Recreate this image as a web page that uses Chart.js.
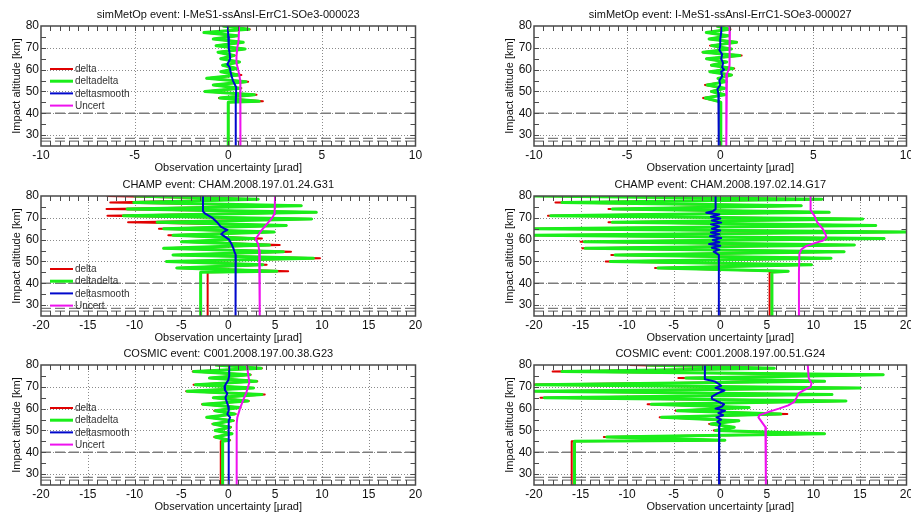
<!DOCTYPE html>
<html>
<head>
<meta charset="utf-8">
<script src="https://cdn.jsdelivr.net/npm/chart.js@4.4.1/dist/chart.umd.min.js"></script>
<style>
  html, body { margin: 0; padding: 0; background: #fff; }
  #fig { position: relative; width: 911px; height: 512px; overflow: hidden; }
  .cell { position: absolute; }
</style>
</head>
<body>
<div id="fig"></div>
<script>
// altitude grid of the raw profiles (km); last two points are the constant part below 45 km
const altZig = [80, 78.5, 77, 75.5, 74, 72.5, 71, 69.5, 68, 66.5, 65, 63.5, 62, 60.5, 59, 57.5,
                56, 54.5, 53, 51.5, 50, 48.5, 47, 45.5, 45, 25];

const seriesNames = ["delta", "deltadelta", "deltasmooth", "Uncert"];
const seriesColors = ["#e00000", "#1aee1a", "#0008cc", "#ee11ee"];
const seriesWidths = [2, 3, 2, 2];

const refAlt = [40, 28.5, 27.2];
const yTicks = [30, 40, 50, 60, 70, 80];
const xTicksNarrow = [-10, -5, 0, 5, 10];
const xTicksWide = [-20, -15, -10, -5, 0, 5, 10, 15, 20];

const titles = [
  "simMetOp event: I-MeS1-ssAnsI-ErrC1-SOe3-000023",
  "simMetOp event: I-MeS1-ssAnsI-ErrC1-SOe3-000027",
  "CHAMP event: CHAM.2008.197.01.24.G31",
  "CHAMP event: CHAM.2008.197.02.14.G17",
  "COSMIC event: C001.2008.197.00.38.G23",
  "COSMIC event: C001.2008.197.00.51.G24"
];

// simMetOp 000023
const m23Delta = [-0.3, 1.15, -1.3, 0.5, -0.8, 0.8, -0.65, 0.9, -0.55, 0.35, -0.4, 0.6, -0.3, 0.5, -0.4, 0.7,
                  -1.15, 1.06, -0.8, 0.7, -1.25, 1.51, -0.5, 1.85, 0.0, 0.0];
const m23DeltaDelta = [-0.3, 1.1, -1.3, 0.5, -0.8, 0.8, -0.65, 0.9, -0.55, 0.3, -0.4, 0.6, -0.3, 0.45, -0.4, 0.55,
                       -1.15, 0.95, -0.8, 0.65, -1.25, 1.4, -0.45, 1.65, 0.0, 0.0];
const m23SmoothAlt = [80, 75, 70, 67, 65, 63.5, 62.5, 61, 59, 57, 55, 53.5, 52, 50, 45, 25];
const m23Smooth = [-0.02, 0.0, 0.03, 0.08, 0.1, 0.02, -0.05, 0.08, 0.12, 0.18, 0.25, 0.33, 0.42, 0.42, 0.4, 0.4];
const m23UncertAlt = [80, 73, 70, 66, 63, 61, 58, 55, 50, 45, 25];
const m23Uncert = [0.58, 0.55, 0.48, 0.44, 0.44, 0.5, 0.58, 0.64, 0.65, 0.65, 0.65];

// simMetOp 000027
const m27Delta = [-0.2, 0.55, -0.75, 0.45, -0.6, 0.9, -0.55, 0.6, -0.95, 1.15, -0.74, 0.35, -0.5, 0.75, -0.56, 0.62,
                  -0.12, 0.33, -0.82, 0.24, -0.5, 0.24, -0.92, -0.12, 0.03, 0.03];
const m27DeltaDelta = [-0.2, 0.5, -0.75, 0.45, -0.6, 0.87, -0.47, 0.6, -0.92, 1.05, -0.74, 0.35, -0.47, 0.68, -0.56, 0.6,
                       -0.12, 0.33, -0.7, 0.24, -0.47, 0.24, -0.8, -0.12, 0.03, 0.03];
const m27SmoothAlt = [80, 77, 74, 71, 69, 67, 65, 63, 61, 60, 59, 57, 55, 53, 51, 49, 45, 25];
const m27Smooth = [0.05, 0.05, 0.0, 0.0, -0.05, 0.1, 0.05, 0.15, 0.1, 0.2, 0.05, 0.1, -0.05, 0.0, -0.15, -0.1, -0.08, -0.08];
const m27UncertAlt = [80, 70, 62, 60, 58, 50, 25];
const m27Uncert = [0.52, 0.5, 0.5, 0.45, 0.36, 0.33, 0.32];

// CHAMP G31
const g31Delta = [-13.0, 3.2, -12.6, 7.8, -13.0, 9.4, -12.9, 8.9, -10.7, 6.2, -7.4, 4.9, -6.4, 3.6, -5.0, 5.5,
                  -6.9, 6.7, -5.9, 9.8, -6.6, 4.1, -5.5, 6.4, -2.2, -2.2];
const g31DeltaDelta = [-10.1, 3.2, -10.1, 7.8, -10.8, 9.4, -11.2, 8.9, -7.6, 6.2, -6.9, 4.9, -5.9, 2.7, -5.0, 4.4,
                       -6.9, 5.9, -5.9, 9.1, -6.6, 3.7, -5.5, 5.2, -2.95, -2.95];
const g31SmoothAlt = [80, 76, 73, 72, 70, 68, 66, 65, 64.5, 63.5, 62.5, 61.5, 60, 58, 56, 54, 53, 45, 25];
const g31Smooth = [-2.7, -2.7, -2.7, -2.5, -1.7, -1.2, -0.8, -0.4, -0.1, -0.5, -0.75, -0.4, 0.1, 0.35, 0.55, 0.7, 0.8, 0.78, 0.78];
const g31UncertAlt = [80, 72, 70, 68, 66, 64, 62, 60.5, 59.5, 58, 55, 45, 25];
const g31Uncert = [5.0, 4.95, 4.7, 4.3, 3.9, 3.5, 3.2, 2.95, 3.0, 3.2, 3.3, 3.35, 3.38];

// CHAMP G17
const g17Delta = [-21, 10.9, -17.7, 8.7, -12.0, 11.7, -18.5, 15.3, -12.0, 16.7, -21, 21, -20.5, 17.6, -15.0, 14.4,
                  -14.8, 13.3, -11.7, 11.9, -12.3, 9.8, -7.0, 7.3, 5.3, 5.3];
const g17DeltaDelta = [-21, 10.9, -17.0, 8.7, -11.6, 11.7, -18.2, 15.3, -11.6, 16.7, -21, 21, -20.5, 17.6, -14.6, 14.4,
                       -14.5, 13.3, -11.3, 11.9, -11.8, 9.8, -6.7, 7.3, 5.55, 5.55];
const g17SmoothAlt = [80, 74, 73, 72.3, 71.5, 70.5, 69.7, 68.8, 67.8, 67, 66, 65, 64.2, 63.3, 62.5, 61.6, 60.7, 59.8, 58.8, 58,
                      57.2, 56.3, 55.4, 54.5, 53.7, 53, 45, 25];
const g17Smooth = [-0.5, -0.5, -0.8, -1.5, -0.1, -1.0, 0.0, -0.9, 0.1, -1.0, -0.1, -0.9, 0.0, -1.0, -0.1, -1.1, 0.1, -0.8, -0.1, -1.2,
                   0.0, -0.9, -0.1, -0.7, -0.4, -0.15, -0.15, -0.15];
const g17UncertAlt = [80, 73.5, 71, 68, 65, 62.5, 61, 59.5, 58.5, 57, 55.5, 53.5, 45, 25];
const g17Uncert = [9.7, 9.7, 10.1, 10.4, 11.0, 11.3, 11.4, 11.0, 10.2, 9.2, 8.7, 8.5, 8.45, 8.45];

// COSMIC G23
const g23Delta = [-1.4, 3.6, -3.8, 2.4, -2.0, 3.1, -3.7, 2.7, -4.5, 3.9, -1.6, 2.2, -2.8, 1.3, -1.5, 0.8,
                  -2.3, 0.6, -1.7, 0.3, -1.4, 0.4, -1.5, 0.2, -0.8, -0.8];
const g23DeltaDelta = [-1.4, 3.5, -3.7, 2.3, -2.0, 3.0, -3.5, 2.7, -4.4, 3.6, -1.6, 2.1, -2.7, 1.25, -1.4, 0.7,
                       -2.3, 0.5, -1.6, 0.2, -1.4, 0.4, -1.4, 0.1, -0.6, -0.6];
const g23SmoothAlt = [80, 75, 73, 71, 70, 68.5, 67, 65, 63, 61, 59, 57.5, 56, 54.5, 53, 45, 25];
const g23Smooth = [0.1, 0.1, 0.0, -0.3, -0.4, -0.35, -0.1, -0.3, -0.15, 0.0, 0.05, -0.1, 0.2, 0.05, 0.05, 0.05, 0.05];
const g23UncertAlt = [80, 75, 72, 69, 67, 64, 60, 56, 53, 45, 25];
const g23Uncert = [2.0, 2.15, 2.25, 2.05, 1.9, 1.6, 1.25, 0.97, 0.9, 0.9, 0.9];

// COSMIC G24
const g24Delta = [-9.7, 5.8, -18.0, 17.5, -4.5, 11.2, -20.5, 15.0, -20.5, 12.0, -19.3, 13.5, -7.8, 3.1, -4.8, 7.2,
                  -6.5, 2.0, -1.2, 1.5, -0.7, 11.2, -12.5, 0.5, -15.95, -15.95];
const g24DeltaDelta = [-8.0, 5.8, -17.0, 17.5, -3.7, 11.2, -19.8, 15.0, -20.5, 12.0, -18.9, 13.5, -7.4, 3.1, -4.6, 6.5,
                       -6.3, 2.0, -1.0, 1.5, -0.5, 11.2, -12.2, 0.5, -15.65, -15.65];
const g24SmoothAlt = [80, 73.5, 72.5, 71.5, 70.5, 69.5, 68.3, 67, 65.5, 64.5, 63.3, 62, 61, 60, 59, 58, 57, 56, 55, 54, 53, 52, 45, 25];
const g24Smooth = [-1.65, -1.65, -0.6, -0.2, 0.1, -0.5, 0.45, -0.3, -0.9, -0.9, -0.3, 0.4, 0.2, -0.5, 0.5, -0.2, 0.3, -0.4, 0.1, -0.3,
                   0.0, -0.1, -0.13, -0.13];
const g24UncertAlt = [80, 74, 71.5, 70, 68.5, 67, 65, 63, 61.5, 60, 58.5, 57, 56, 53, 51.5, 45, 25];
const g24Uncert = [9.4, 9.5, 9.8, 9.7, 9.0, 8.4, 8.2, 7.9, 7.3, 6.3, 5.2, 4.2, 4.1, 4.6, 4.85, 4.9, 4.9];

const panels = [
  { title: titles[0], ticks: xTicksNarrow, minor: 0.5, delta: m23Delta, dd: m23DeltaDelta, sAlt: m23SmoothAlt, s: m23Smooth, uAlt: m23UncertAlt, u: m23Uncert, legendAt: 43 },
  { title: titles[1], ticks: xTicksNarrow, minor: 0.5, delta: m27Delta, dd: m27DeltaDelta, sAlt: m27SmoothAlt, s: m27Smooth, uAlt: m27UncertAlt, u: m27Uncert, legendAt: null },
  { title: titles[2], ticks: xTicksWide, minor: 1, delta: g31Delta, dd: g31DeltaDelta, sAlt: g31SmoothAlt, s: g31Smooth, uAlt: g31UncertAlt, u: g31Uncert, legendAt: 73 },
  { title: titles[3], ticks: xTicksWide, minor: 1, delta: g17Delta, dd: g17DeltaDelta, sAlt: g17SmoothAlt, s: g17Smooth, uAlt: g17UncertAlt, u: g17Uncert, legendAt: null },
  { title: titles[4], ticks: xTicksWide, minor: 1, delta: g23Delta, dd: g23DeltaDelta, sAlt: g23SmoothAlt, s: g23Smooth, uAlt: g23UncertAlt, u: g23Uncert, legendAt: 43 },
  { title: titles[5], ticks: xTicksWide, minor: 1, delta: g24Delta, dd: g24DeltaDelta, sAlt: g24SmoothAlt, s: g24Smooth, uAlt: g24UncertAlt, u: g24Uncert, legendAt: null }
];

const FONT = '"Liberation Sans", Arial, Helvetica, sans-serif';
Chart.defaults.font.family = FONT;
Chart.defaults.color = "#111";

const pts = (xs, ys) => xs.map((x, i) => ({ x: x, y: ys[i] }));

// box, inward ticks, dotted grid, title and legend in MATLAB style
const framePlugin = {
  id: "frame",
  beforeDatasetsDraw(chart) {
    const { ctx, chartArea: a, scales: { x, y } } = chart;
    ctx.save();
    ctx.strokeStyle = "#8a8a8a";
    ctx.lineWidth = 1;
    ctx.setLineDash([1, 2]);
    ctx.beginPath();
    x.ticks.forEach(t => {
      const px = Math.round(x.getPixelForValue(t.value)) + 0.5;
      if (px > a.left + 2 && px < a.right - 2) { ctx.moveTo(px, a.top); ctx.lineTo(px, a.bottom); }
    });
    y.ticks.forEach(t => {
      const py = Math.round(y.getPixelForValue(t.value)) + 0.5;
      if (py > a.top + 2 && py < a.bottom - 2) { ctx.moveTo(a.left, py); ctx.lineTo(a.right, py); }
    });
    ctx.stroke();
    ctx.restore();
  },
  afterDatasetsDraw(chart, args, opts) {
    const { ctx, chartArea: a, scales: { x, y } } = chart;
    const tl = 5;
    ctx.save();
    ctx.strokeStyle = "#4a4a4a";
    ctx.lineWidth = 1;
    ctx.beginPath();
    for (let v = x.min + opts.minor; v < x.max - 1e-6; v += opts.minor) {
      const px = Math.round(x.getPixelForValue(v)) + 0.5;
      ctx.moveTo(px, a.top); ctx.lineTo(px, a.top + tl);
      ctx.moveTo(px, a.bottom); ctx.lineTo(px, a.bottom - tl);
    }
    for (let v = y.min + 5; v < y.max - 1e-6; v += 5) {
      const py = Math.round(y.getPixelForValue(v)) + 0.5;
      ctx.moveTo(a.left, py); ctx.lineTo(a.left + tl, py);
      ctx.moveTo(a.right, py); ctx.lineTo(a.right - tl, py);
    }
    ctx.stroke();
    ctx.lineWidth = 1.5;
    ctx.strokeRect(a.left, a.top, a.right - a.left, a.bottom - a.top);

    // title
    ctx.fillStyle = "#111";
    ctx.font = "11px " + FONT;
    ctx.textAlign = "center";
    ctx.textBaseline = "middle";
    ctx.fillText(opts.title, (a.left + a.right) / 2, a.top - 11.5);

    // legend
    if (opts.legendAt !== null) {
      ctx.font = "10px " + FONT;
      ctx.textAlign = "left";
      chart.data.datasets.filter(d => seriesNames.includes(d.label)).forEach((d, i) => {
        const ly = a.top + opts.legendAt + i * 12.2;
        ctx.strokeStyle = d.borderColor;
        ctx.lineWidth = d.borderWidth;
        ctx.beginPath();
        ctx.moveTo(a.left + 9, ly); ctx.lineTo(a.left + 32, ly);
        ctx.stroke();
        ctx.fillStyle = "#333";
        ctx.fillText(d.label, a.left + 34, ly + 0.5);
      });
    }
    ctx.restore();
  }
};

const fig = document.getElementById("fig");
const rowTops = [0, 170, 339];

panels.forEach((p, i) => {
  const col = i % 2, row = Math.floor(i / 2);
  const w = col ? 418 : 455, h = 176;
  const div = document.createElement("div");
  div.className = "cell";
  div.style.left = (col ? 493 : 0) + "px";
  div.style.top = rowTops[row] + "px";
  const canvas = document.createElement("canvas");
  canvas.width = w; canvas.height = h;
  canvas.style.width = w + "px"; canvas.style.height = h + "px";
  div.appendChild(canvas);
  fig.appendChild(div);

  const xMin = p.ticks[0], xMax = p.ticks[p.ticks.length - 1];
  const line = (label, data, k, order) => ({
    label: label, data: data, showLine: true, pointRadius: 0,
    borderColor: seriesColors[k], backgroundColor: seriesColors[k],
    borderWidth: seriesWidths[k], borderJoinStyle: "round", tension: 0, clip: 0, order: order
  });

  const datasets = refAlt.map(r => ({
    label: "ref", data: [{ x: xMin, y: r }, { x: xMax, y: r }], showLine: true, pointRadius: 0,
    borderColor: "#7c7c7c", borderWidth: 1.3, borderDash: [10, 4], clip: 0, order: 9
  }));
  datasets.push(line(seriesNames[0], pts(p.delta, altZig), 0, 4));
  datasets.push(line(seriesNames[1], pts(p.dd, altZig), 1, 3));
  datasets.push(line(seriesNames[2], pts(p.s, p.sAlt), 2, 2));
  datasets.push(line(seriesNames[3], pts(p.u, p.uAlt), 3, 1));

  new Chart(canvas, {
    type: "scatter",
    data: { datasets: datasets },
    options: {
      responsive: false,
      animation: false,
      events: [],
      layout: { padding: { left: 10, right: col ? 4.5 : 39.5, top: 26, bottom: 0 } },
      plugins: {
        legend: { display: false },
        tooltip: { enabled: false },
        frame: { title: p.title, minor: p.minor, legendAt: p.legendAt }
      },
      scales: {
        x: {
          type: "linear", position: "bottom", min: xMin, max: xMax,
          afterBuildTicks: s => { s.ticks = p.ticks.map(v => ({ value: v })); },
          afterFit: s => { s.height = 30; s.paddingLeft = 0; s.paddingRight = 0; },
          grid: { display: false, drawTicks: false }, border: { display: false },
          ticks: { font: { size: 12 }, color: "#111", padding: 2, autoSkip: false, maxRotation: 0, callback: v => String(v) },
          title: { display: true, text: "Observation uncertainty [\u00b5rad]", font: { size: 11 }, color: "#111", padding: { top: 0, bottom: 1.4 } }
        },
        y: {
          type: "linear", position: "left", min: 25, max: 80,
          afterBuildTicks: s => { s.ticks = yTicks.map(v => ({ value: v })); },
          afterFit: s => { s.width = 31; s.paddingTop = 0; s.paddingBottom = 0; },
          grid: { display: false, drawTicks: false }, border: { display: false },
          ticks: { font: { size: 12 }, color: "#111", padding: 2, autoSkip: false, callback: v => String(v) },
          title: { display: true, text: "Impact altitude [km]", font: { size: 11 }, color: "#111", padding: { top: 0.4, bottom: 0 } }
        }
      }
    },
    plugins: [framePlugin]
  });
});
</script>
</body>
</html>
